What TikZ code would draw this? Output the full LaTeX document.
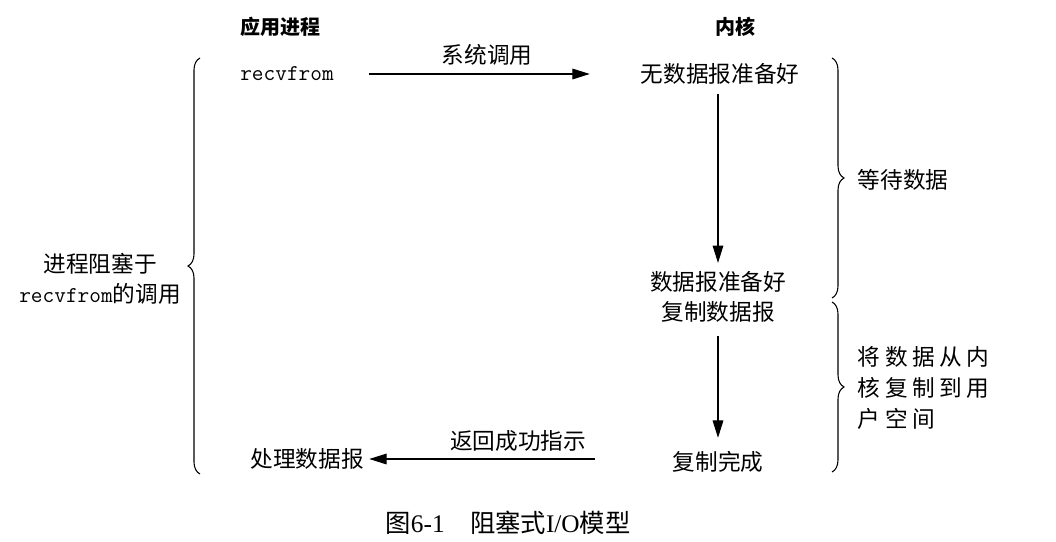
\documentclass[tikz,border=0pt]{standalone}
\usepackage{fontspec}
\setmainfont{Noto Sans CJK SC}
\newfontfamily\capfont{Liberation Serif}
\usetikzlibrary{arrows.meta,decorations.pathreplacing}

\begin{document}
\begin{tikzpicture}[x=0.75pt, y=-0.75pt,
    txt/.style={font=\fontsize{17}{23}\selectfont, inner sep=2pt},
    head/.style={font=\fontsize{15}{18}\selectfont\bfseries, inner sep=2pt},
    code/.style={font=\fontsize{17}{23}\selectfont\ttfamily, inner sep=2pt},
    side/.style={font=\fontsize{17}{23}\selectfont\addfontfeature{LetterSpace=20}, align=left, inner sep=2pt},
    arrow/.style={-{Triangle[length=13pt,width=8pt]}, line width=0.8pt},
    bracket/.style={decorate, decoration={brace, amplitude=9pt}, line width=0.8pt}
]
\useasboundingbox (0,0) rectangle (1056,542);

% Column headers
\node[head] (app) at (280, 27) {应用进程};
\node[head] (kernel) at (735, 27) {内核};

% Application side
\node[code] (recv) at (287, 74) {recvfrom};
\node[txt] (proc) at (307, 459) {处理数据报};
\node[txt, align=center] (block) at (100, 279) {进程阻塞于\\{\ttfamily recvfrom}的调用};

% Kernel side
\node[txt] (nodata) at (720, 74) {无数据报准备好};
\node[txt, align=center] (ready) at (718, 297) {数据报准备好\\复制数据报};
\node[txt] (done) at (718, 462) {复制完成};

% Arrows
\draw[arrow, shorten <=24pt, shorten >=36pt] (recv) -- node[txt, above=4pt] (syscall) {系统调用} (nodata.west |- recv);
\draw[arrow, shorten <=5pt, shorten >=4pt] (nodata.south -| ready) -- (ready.north);
\draw[arrow, shorten <=8pt, shorten >=8pt] (ready.south) -- (done.north);
\draw[arrow, shorten <=56pt, shorten >=2pt] (done.west |- proc) -- node[txt, above=3pt] (ok) {返回成功指示} (proc.east);

% Braces
\coordinate (lb1) at (200, 474);
\coordinate (lb2) at (200, 58);
\coordinate (rb1) at (832, 58);
\coordinate (rb2) at (832, 298);
\coordinate (rb3) at (832, 302);
\coordinate (rb4) at (832, 472);
\draw[bracket] (lb1) -- (lb2);
\draw[bracket] (rb1) -- (rb2);
\draw[bracket] (rb3) -- (rb4);
\node[txt, anchor=west] (wait) at (855, 180) {等待数据};
\node[side, anchor=west] (copy) at (855, 388) {将数据从内\\核复制到用\\户空间};

% Caption
\node[txt, font=\fontsize{19}{23}\selectfont] (cap) at (508, 523) {图{\capfont 6-1}\quad 阻塞式{\capfont I/O}模型};

\end{tikzpicture}
\end{document}
